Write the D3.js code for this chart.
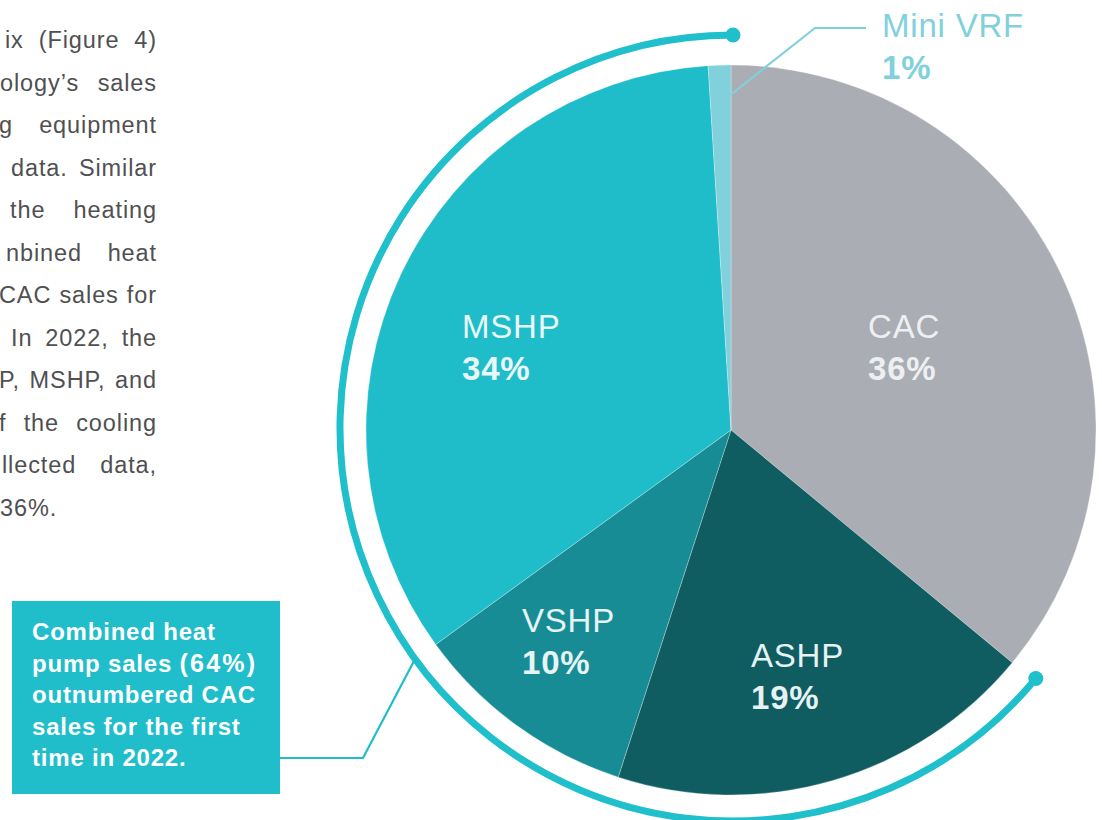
<!DOCTYPE html>
<meta charset="utf-8">
<style>
html, body { margin: 0; padding: 0; background: #fff; }
svg { display: block; }
</style>
<svg width="1102" height="820"></svg>
<script src="https://d3js.org/d3.v7.min.js"></script>
<script>

// slice data, clockwise from 12 o'clock
var categories = ["CAC", "ASHP", "VSHP", "MSHP", "Mini VRF"];
var shares = [36, 19, 10, 34, 1];
var sliceColors = ["#abadb4", "#0f5c61", "#188c95", "#1fbdca", "#80d1dc"];
var heatPumps = ["ASHP", "VSHP", "MSHP", "Mini VRF"];

// cut-off body copy on the left of the page
var bodyLines = [
  "ix (Figure 4)",
  "ology\u2019s sales",
  "g equipment",
  "data. Similar",
  "the heating",
  "nbined heat",
  "CAC sales for",
  "In 2022, the",
  "P, MSHP, and",
  "f the cooling",
  "llected data,",
  "36%."
];
// where each visible fragment starts (the rest is cut by the page edge)
var bodyLeft = [5, 0, -1, 11, 10, 6, -1, 11, -1, -1, 2, 0];

var calloutLines = [
  ["Combined heat"],
  ["pump sales ", "(64%)"],
  ["outnumbered CAC"],
  ["sales for the first"],
  ["time in 2022."]
];

var svg = d3.select("svg"),
    cx = 731, cy = 430, radius = 365,
    ringCx = 733, ringCy = 428, ringR = 393;

var data = categories.map(function(c, i) { return {name: c, value: shares[i]}; });

var color = d3.scaleOrdinal().domain(categories).range(sliceColors);

var pie = d3.pie().sort(null).value(function(d) { return d.value; });
var arcs = pie(data);
var arc = d3.arc().innerRadius(0).outerRadius(radius);

function polar(x0, y0, r, a) {
  return [x0 + r * Math.sin(a), y0 - r * Math.cos(a)];
}

// pie
var g = svg.append("g").attr("transform", "translate(" + cx + "," + cy + ")");
g.selectAll("path")
  .data(arcs)
  .enter().append("path")
    .attr("d", arc)
    .attr("fill", function(d) { return color(d.data.name); })
    .attr("stroke", "rgba(255,255,255,0.45)")
    .attr("stroke-width", 0.6);

// outer ring spanning the heat pump slices
var hp = arcs.filter(function(d) { return heatPumps.indexOf(d.data.name) >= 0; });
var a0 = d3.min(hp, function(d) { return d.startAngle; }),
    a1 = d3.max(hp, function(d) { return d.endAngle; });
var ring = d3.path();
ring.arc(ringCx, ringCy, ringR, a0 - Math.PI / 2, a1 - Math.PI / 2);
svg.append("path")
  .attr("d", ring.toString())
  .attr("fill", "none")
  .attr("stroke", "#1fbfcc")
  .attr("stroke-width", 7);
[a0, a1].forEach(function(a) {
  var p = polar(ringCx, ringCy, ringR, a);
  svg.append("circle").attr("cx", p[0]).attr("cy", p[1]).attr("r", 7.5).attr("fill", "#1fbfcc");
});

// slice labels
var labelPos = {
  "CAC": [868, 338], "ASHP": [751, 667], "VSHP": [522, 632],
  "MSHP": [462, 338], "Mini VRF": [882, 37]
};
var labelFill = {
  "CAC": "#eeeff1", "ASHP": "#e6f2f3", "VSHP": "#e6f4f5",
  "MSHP": "#eaf7f9", "Mini VRF": "#80d1dc"
};
data.forEach(function(d) {
  var p = labelPos[d.name];
  var t = svg.append("text")
    .attr("x", p[0]).attr("y", p[1])
    .attr("font-family", "'Liberation Sans', Arial, sans-serif")
    .attr("font-size", 33)
    .attr("letter-spacing", 0.8)
    .attr("fill", labelFill[d.name]);
  t.append("tspan").text(d.name);
  t.append("tspan").attr("x", p[0]).attr("dy", 42).attr("font-weight", "bold").text(d.value + "%");
});

// Mini VRF leader line
var mini = arcs[arcs.length - 1];
var ms = polar(cx, cy, 335, mini.endAngle - 0.002);
svg.append("polyline")
  .attr("points", [ms, [815, 28], [866, 28]].map(function(p) { return p.join(","); }).join(" "))
  .attr("fill", "none")
  .attr("stroke", "#80d1dc")
  .attr("stroke-width", 2.2);

// callout box
svg.append("rect")
  .attr("x", 12).attr("y", 601).attr("width", 268).attr("height", 193)
  .attr("fill", "#20bdca");
var ct = svg.append("text")
  .attr("font-family", "'Liberation Sans', Arial, sans-serif")
  .attr("font-size", 24)
  .attr("font-weight", "bold")
  .attr("letter-spacing", 0.8)
  .attr("fill", "#fff");
calloutLines.forEach(function(parts, i) {
  parts.forEach(function(s, j) {
    var ts = ct.append("tspan").text(s);
    if (j === 0) ts.attr("x", 32).attr("y", 640 + i * 31.5);
    if (s.charAt(0) === "(") ts.attr("font-size", 25).attr("letter-spacing", 2.2);
  });
});

// callout leader to the ring at the VSHP/MSHP boundary
var vshp = arcs[categories.indexOf("VSHP")];
var le = polar(ringCx, ringCy, ringR, vshp.endAngle);
svg.append("polyline")
  .attr("points", [[280, 758], [363, 758], le].map(function(p) { return p.join(","); }).join(" "))
  .attr("fill", "none")
  .attr("stroke", "#1fbdca")
  .attr("stroke-width", 2.2);

// body copy, justified to the right margin
var body = svg.append("g")
  .attr("font-family", "'Liberation Sans', Arial, sans-serif")
  .attr("font-size", 23.5)
  .attr("letter-spacing", 0.9)
  .attr("fill", "#505052");
bodyLines.forEach(function(line, i) {
  var last = i === bodyLines.length - 1;
  var t = body.append("text")
    .attr("x", last ? bodyLeft[i] : 157)
    .attr("y", 48 + i * 42.5)
    .attr("text-anchor", last ? "start" : "end")
    .text(line);
  if (!last) {
    var spaces = (line.match(/ /g) || []).length;
    var w = t.node().getComputedTextLength();
    var target = 157 - bodyLeft[i];
    if (spaces > 0 && w < target) t.attr("word-spacing", (target - w) / spaces);
  }
});

</script>
